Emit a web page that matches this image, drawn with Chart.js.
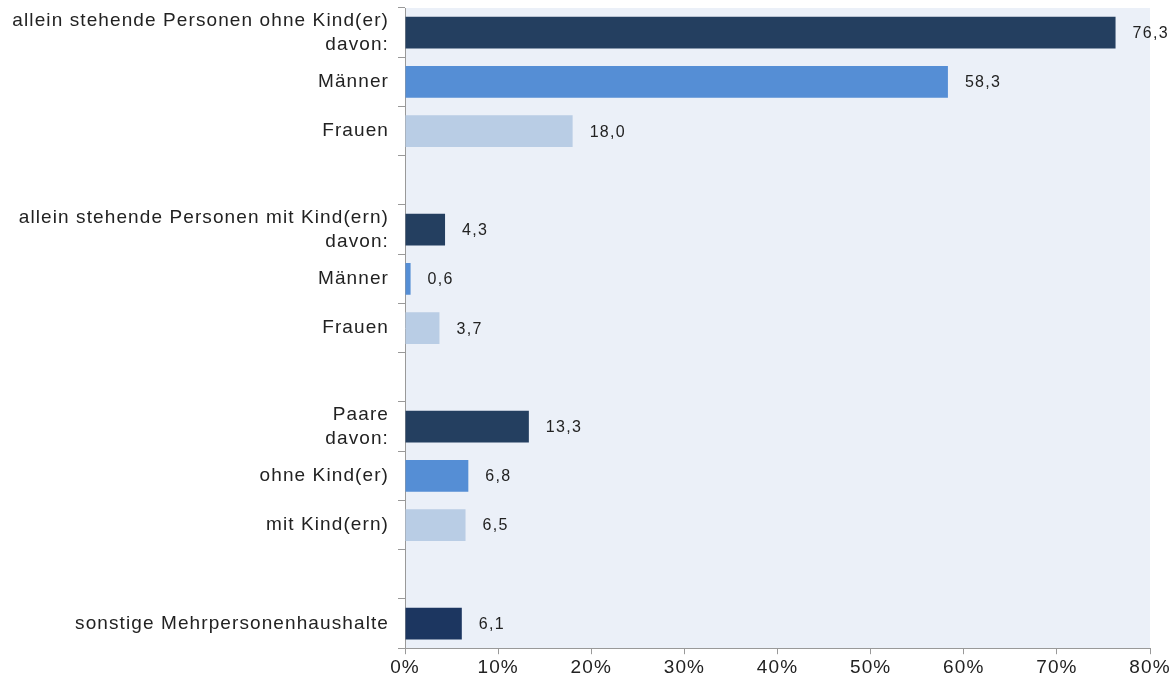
<!DOCTYPE html>
<html>
<head>
<meta charset="utf-8">
<script src="https://cdn.jsdelivr.net/npm/chart.js@4.4.1/dist/chart.umd.min.js"></script>
<style>
html,body{margin:0;padding:0;background:#fff;}
#wrap{width:1174px;height:684px;position:relative;}
</style>
</head>
<body>
<div id="wrap"><canvas id="c" width="1174" height="684"></canvas></div>
<script>
const categories = [
  ["allein stehende Personen ohne Kind(er)", "davon:"],
  "Männer",
  "Frauen",
  "",
  ["allein stehende Personen mit Kind(ern)", "davon:"],
  "Männer",
  "Frauen",
  "",
  ["Paare", "davon:"],
  "ohne Kind(er)",
  "mit Kind(ern)",
  "",
  "sonstige Mehrpersonenhaushalte"
];
const values = [76.3, 58.3, 18.0, null, 4.3, 0.6, 3.7, null, 13.3, 6.8, 6.5, null, 6.1];
const barColors = ["#243F60", "#558ED5", "#B9CDE5", null, "#243F60", "#558ED5", "#B9CDE5", null, "#243F60", "#558ED5", "#B9CDE5", null, "#1C3660"];
const xTicks = [0, 10, 20, 30, 40, 50, 60, 70, 80];

const FONT = "'Liberation Sans', Arial, sans-serif";

const spacingPlugin = {
  id: 'spacing',
  beforeInit(chart) { chart.ctx.letterSpacing = '1.1px'; },
  beforeUpdate(chart) { chart.ctx.letterSpacing = '1.1px'; },
  beforeDraw(chart) { chart.ctx.letterSpacing = '1.1px'; }
};
const bgPlugin = {
  id: 'plotBg',
  beforeDraw(chart) {
    const a = chart.chartArea, ctx = chart.ctx;
    ctx.save();
    ctx.fillStyle = '#EBF0F8';
    ctx.fillRect(a.left, a.top, a.right - a.left, a.bottom - a.top);
    ctx.restore();
  }
};
const labelPlugin = {
  id: 'valLabels',
  afterDatasetsDraw(chart) {
    const ctx = chart.ctx;
    const meta = chart.getDatasetMeta(0);
    ctx.save();
    ctx.font = '16px ' + FONT;
    ctx.letterSpacing = '1.3px';
    ctx.fillStyle = '#222';
    ctx.textBaseline = 'middle';
    ctx.textAlign = 'left';
    meta.data.forEach((bar, i) => {
      const v = values[i];
      if (v === null || v === undefined) return;
      ctx.fillText(v.toFixed(1).replace('.', ','), bar.x + 17, bar.y + 1);
    });
    ctx.restore();
  }
};

new Chart(document.getElementById('c'), {
  type: 'bar',
  data: {
    labels: categories,
    datasets: [{
      data: values,
      backgroundColor: barColors,
      borderWidth: 0,
      categoryPercentage: 1,
      barPercentage: 0.645
    }]
  },
  options: {
    indexAxis: 'y',
    responsive: false,
    animation: false,
    devicePixelRatio: 1,
    layout: { padding: { left: 0, right: 24, top: 8, bottom: 3 } },
    plugins: { legend: { display: false }, tooltip: { enabled: false } },
    scales: {
      x: {
        min: 0, max: 80,
        afterBuildTicks(scale) { scale.ticks = xTicks.map(v => ({ value: v })); },
        ticks: {
          callback: v => v + '%',
          color: '#222',
          font: { family: FONT, size: 19 },
          padding: 2,
          maxRotation: 0
        },
        grid: { drawOnChartArea: false, drawTicks: true, tickLength: 6, color: '#999' },
        border: { color: '#999', width: 1 }
      },
      y: {
        afterFit(scale) { scale.width = 405; scale.paddingTop = 0; scale.paddingBottom = 0; },
        ticks: {
          color: '#222',
          font: { family: FONT, size: 19, lineHeight: 1.26 },
          padding: 9,
          autoSkip: false
        },
        grid: { offset: true, drawOnChartArea: false, drawTicks: true, tickLength: 7, color: '#999' },
        border: { color: '#999', width: 1 }
      }
    }
  },
  plugins: [spacingPlugin, bgPlugin, labelPlugin]
});
</script>
</body>
</html>
